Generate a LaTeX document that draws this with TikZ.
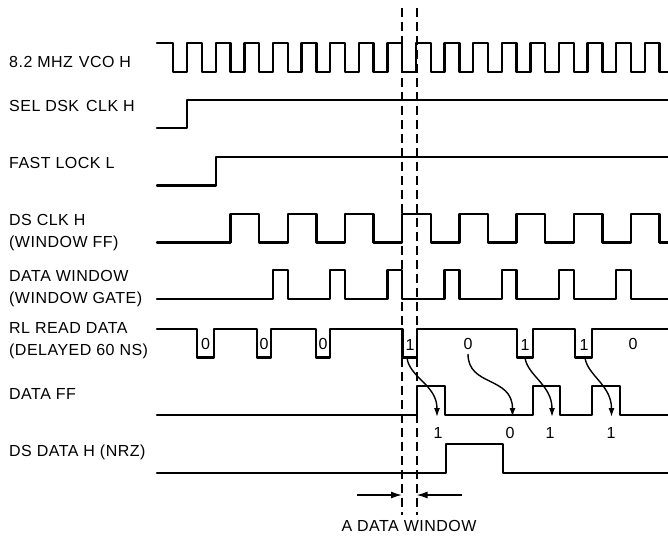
\documentclass[tikz,border=0pt]{standalone}
\usepackage{fontspec}
\setmainfont{Liberation Sans}[LetterSpace=3]
\usetikzlibrary{arrows.meta}
\begin{document}
\begin{tikzpicture}[x=1pt,y=-1pt,
  wave/.style={line width=2.3pt, line join=round, line cap=round},
  lbl/.style={anchor=base west, inner sep=0pt, font=\fontsize{16}{19}\selectfont},
  bit/.style={inner sep=0pt, font=\fontsize{16}{19}\selectfont},
  guide/.style={line width=2pt, dash pattern=on 9pt off 5pt},
  curv/.style={line width=1.4pt, -{Latex[length=9pt,width=6pt]}},
  warr/.style={line width=1.4pt, -{Latex[length=11pt,width=7pt]}}
]
\useasboundingbox (0,0) rectangle (668,535);

% ---- labels ----
\node[lbl] (tvco)  at (9,67)  {8.2 MHZ\hspace{6pt}VCO H};
\node[lbl] (tsel)  at (9,111) {SEL DSK\hspace{7pt}CLK H};
\node[lbl] (tfast) at (9,168) {FAST LOCK L};
\node[lbl] (tds1)  at (9,225) {DS CLK H};
\node[lbl] (tds2)  at (9,247) {(WINDOW FF)};
\node[lbl] (tdw1)  at (9,281) {DATA WINDOW};
\node[lbl] (tdw2)  at (9,303) {(WINDOW GATE)};
\node[lbl] (trl1)  at (9,333) {RL READ DATA};
\node[lbl] (trl2)  at (9,355) {(DELAYED 60 NS)};
\node[lbl] (tdff)  at (9,399) {DATA FF};
\node[lbl] (tdsd)  at (9,456) {DS DATA H (NRZ)};

% ---- dashed window guides ----
\coordinate (g1t) at (402,8);   \coordinate (g1b) at (402,515);
\coordinate (g2t) at (416.5,8); \coordinate (g2b) at (416.5,515);
\draw[guide] (g1t) -- (g1b);
\draw[guide] (g2t) -- (g2b);

% ---- 8.2 MHz VCO ----
\draw[wave] (157,43) -- (173,43) -- (173,72)
  \foreach \j in {0,...,16}{ -- ({187.2+28.6*\j},72) -- ({187.2+28.6*\j},43)
                             -- ({202+28.6*\j},43) -- ({202+28.6*\j},72)}
  -- (668,72);

% ---- SEL DSK CLK ----
\draw[wave] (157,128) -- (187.2,128) -- (187.2,100) -- (668,100);

% ---- FAST LOCK ----
\draw[wave] (157,185.5) -- (215.8,185.5) -- (215.8,157) -- (668,157);

% ---- DS CLK ----
\draw[wave] (157,242.5)
  \foreach \m in {0,...,7}{ -- ({230.6+57.2*\m},242.5) -- ({230.6+57.2*\m},214)
                            -- ({259.2+57.2*\m},214) -- ({259.2+57.2*\m},242.5)}
  -- (668,242.5);

% ---- DATA WINDOW ----
\draw[wave] (157,299)
  \foreach \n in {0,...,6}{ -- ({273+57.2*\n},299) -- ({273+57.2*\n},270)
                            -- ({287.8+57.2*\n},270) -- ({287.8+57.2*\n},299)}
  -- (668,299);

% ---- RL READ DATA ----
\draw[wave] (157,329)
  -- (197,329) -- (197,357.5) -- (214,357.5) -- (214,329)
  -- (257,329) -- (257,357.5) -- (271,357.5) -- (271,329)
  -- (316,329) -- (316,357.5) -- (330,357.5) -- (330,329)
  -- (402.5,329) -- (402.5,357.5) -- (417,357.5) -- (417,329)
  -- (517,329) -- (517,357.5) -- (533,357.5) -- (533,329)
  -- (575,329) -- (575,357.5) -- (592,357.5) -- (592,329)
  -- (668,329);
\node[bit] (b1) at (205.5,344) {0};
\node[bit] (b2) at (264,344) {0};
\node[bit] (b3) at (323,344) {0};
\node[bit] (b4) at (410,345) {1};
\node[bit] (b5) at (468,344) {0};
\node[bit] (b6) at (525,345) {1};
\node[bit] (b7) at (584,345) {1};
\node[bit] (b8) at (633,344) {0};

% ---- DATA FF ----
\draw[wave] (157,415) -- (417,415) -- (417,386) -- (445,386) -- (445,415)
  -- (533,415) -- (533,386) -- (560,386) -- (560,415)
  -- (592,415) -- (592,386) -- (620,386) -- (620,415) -- (668,415);
\node[bit] (o1) at (438,433) {1};
\node[bit] (o2) at (510,433) {0};
\node[bit] (o3) at (550,433) {1};
\node[bit] (o4) at (611,433) {1};

% ---- transfer arrows ----
\coordinate (s1) at (407,358);   \coordinate (e1) at (437,417);
\coordinate (s2) at (468,354);   \coordinate (e2) at (512.5,417);
\coordinate (s3) at (525,358);   \coordinate (e3) at (552,417);
\coordinate (s4) at (585,358);   \coordinate (e4) at (611.5,417);
\draw[curv] (s1) .. controls (410,378) and (437,385) .. (e1);
\draw[curv] (s2) .. controls (468,387) and (512.5,376) .. (e2);
\draw[curv] (s3) .. controls (528,376) and (552,385) .. (e3);
\draw[curv] (s4) .. controls (588,376) and (611.5,385) .. (e4);

% ---- DS DATA H (NRZ) ----
\draw[wave] (157,473) -- (446,473) -- (446,444) -- (503,444) -- (503,473) -- (668,473);

% ---- data window dimension ----
\coordinate (wl) at (357,495); \coordinate (wlt) at (402,495);
\coordinate (wr) at (462,495); \coordinate (wrt) at (416.5,495);
\draw[warr] (wl) -- (wlt);
\draw[warr] (wr) -- (wrt);
\node[bit] (wtxt) at (409,526) {A DATA WINDOW};
\end{tikzpicture}
\end{document}
